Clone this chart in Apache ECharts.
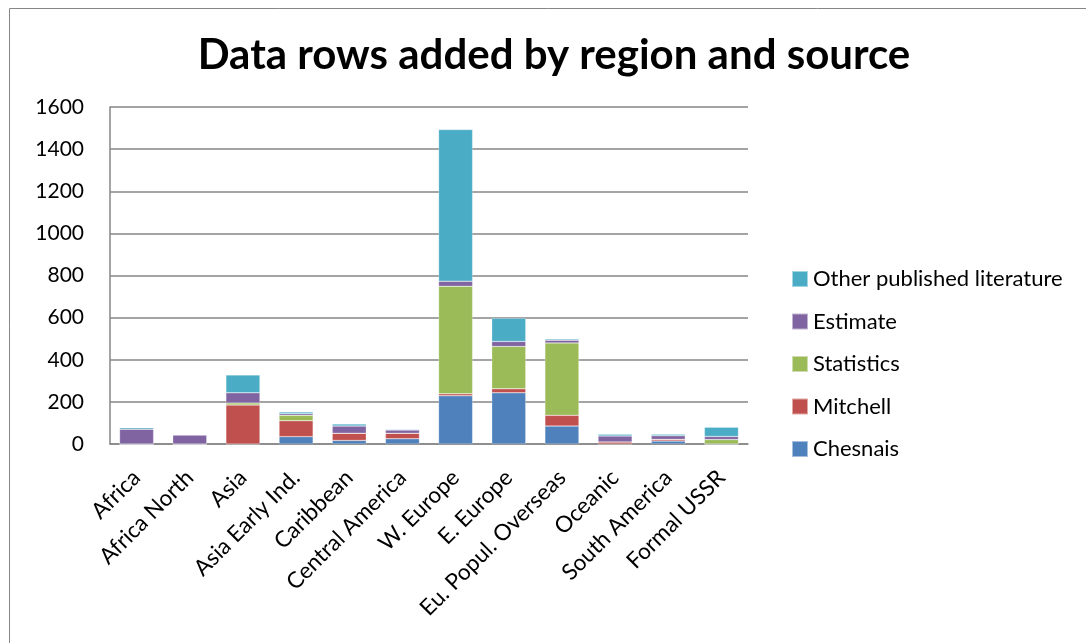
<!DOCTYPE html>
<html><head><meta charset="utf-8">
<script src="https://cdn.jsdelivr.net/npm/echarts@6/dist/echarts.min.js"></script>
<style>html,body{margin:0;padding:0;background:#fff}#c{width:1086px;height:643px}</style>
</head><body><div id="c"></div>
<script>
var categories = ['Africa','Africa North','Asia','Asia Early Ind.','Caribbean','Central America','W. Europe','E. Europe','Eu. Popul. Overseas','Oceanic','South America','Formal USSR'];
var chesnais   = [0, 0, 0, 35, 17, 25, 229, 243, 85, 0, 14, 0];
var mitchell   = [0, 0, 185, 75, 34, 26, 9, 19, 51, 10, 8, 0];
var statistics = [0, 0, 10, 26, 0, 0, 511, 201, 344, 0, 0, 21];
var estimate   = [70, 43, 48, 8, 34, 15, 24, 24, 13, 28, 17, 15];
var other      = [7, 0, 85, 8, 10, 4, 720, 110, 5, 8, 7, 44];
var yTicks = [0, 200, 400, 600, 800, 1000, 1200, 1400, 1600];

var FONT = 'Lato';
var chart = echarts.init(document.getElementById('c'));
function s(name, data, color) {
  return {name: name, type: 'bar', stack: 'a', data: data, barWidth: '64%',
    itemStyle: {color: color, borderColor: 'rgba(255,255,255,0.5)', borderWidth: 0.5}};
}
chart.setOption({
  animation: false,
  textStyle: {fontFamily: FONT},
  title: {text: 'Data rows added by region and source', left: 549, top: 29, textAlign: 'center',
    textStyle: {fontFamily: FONT, fontWeight: 'bold', fontSize: 42, color: '#000'}},
  graphic: [{type: 'rect', shape: {x: 9.5, y: 8.5, width: 1200, height: 800},
    style: {fill: 'none', stroke: '#868686', lineWidth: 1}}],
  grid: {left: 110, right: 338, top: 107, bottom: 199},
  legend: {orient: 'vertical', left: 786, top: 263, itemWidth: 16, itemHeight: 16, itemGap: 20.5,
    icon: 'rect', textStyle: {fontSize: 22, color: '#000', fontFamily: FONT},
    data: ['Other published literature','Estimate','Statistics','Mitchell','Chesnais']},
  xAxis: {type: 'category', data: categories,
    axisLine: {lineStyle: {color: '#868686', width: 1.5}}, axisTick: {show: false},
    axisLabel: {rotate: 45, fontSize: 22.5, color: '#000', margin: 30, interval: 0, fontFamily: FONT}},
  yAxis: {type: 'value', min: 0, max: 1600, interval: 200,
    axisLine: {show: true, lineStyle: {color: '#868686', width: 1.5}}, axisTick: {show: false},
    splitLine: {lineStyle: {color: '#868686', width: 1.5}},
    axisLabel: {fontSize: 21, color: '#000', margin: 26, fontFamily: FONT,
      formatter: function (v) { return yTicks.indexOf(v) >= 0 ? String(v) : ''; }}},
  series: [
    s('Chesnais', chesnais, '#4F81BD'),
    s('Mitchell', mitchell, '#C0504D'),
    s('Statistics', statistics, '#9BBB59'),
    s('Estimate', estimate, '#8064A2'),
    s('Other published literature', other, '#4BACC6')
  ]
});
</script></body></html>
